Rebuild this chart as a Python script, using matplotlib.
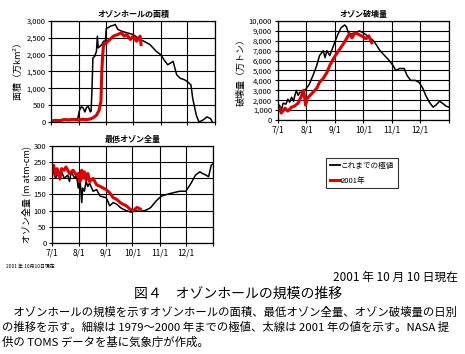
import matplotlib.pyplot as plt
from matplotlib.lines import Line2D

plt.rcParams['font.family'] = ['Noto Sans CJK JP', 'DejaVu Sans']

# x軸: 7/1からの日数
month_days = [0, 31, 62, 92, 123, 153, 184]
month_labels = ['7/1', '8/1', '9/1', '10/1', '11/1', '12/1']

# オゾンホールの面積（万km2）
area_max_day = [0, 5, 10, 15, 20, 25, 30, 32, 34, 36, 38, 40, 42, 44, 45, 46, 47, 49, 51, 52,
                53, 55, 57, 59, 61, 62, 64, 67, 70, 72, 75, 79, 85, 92, 100, 104, 111, 118, 123,
                128, 131, 134, 137, 139, 141, 145, 150, 153, 157, 159, 163, 166, 170, 175, 179, 181]
area_max_val = [30, 50, 60, 80, 70, 90, 100, 350, 450, 420, 300, 440, 450, 300, 320, 1000, 1900, 1950, 2100, 2550,
                2200, 2250, 2300, 2400, 2400, 2780, 2800, 2850, 2870, 2900, 2750, 2700, 2650, 2600, 2450, 2400, 2300, 2100, 2000,
                1800, 1700, 1750, 1800, 1600, 1400, 1300, 1250, 1200, 1100, 700, 200, 0, 50, 150, 100, 0]
area_2001_day = [0, 5, 10, 15, 20, 25, 30, 35, 40, 44, 47, 51, 54, 56, 57, 58, 59, 62, 64, 70, 75,
                 79, 82, 85, 89, 92, 96, 100, 101]
area_2001_val = [30, 50, 40, 70, 60, 80, 60, 80, 70, 90, 120, 200, 350, 600, 1500, 2000, 2300, 2350, 2400, 2550, 2600,
                 2650, 2550, 2600, 2450, 2550, 2400, 2550, 2300]

# オゾン破壊量（万トン）
dest_max_day = [0, 2, 4, 6, 9, 11, 13, 15, 17, 20, 22, 24, 27, 31, 34, 38, 42, 45, 49, 51,
                53, 56, 60, 62, 65, 68, 72, 74, 76, 79, 83, 88, 92, 95, 99, 103, 106, 110, 115, 120,
                124, 127, 131, 136, 139, 143, 148, 152, 156, 159, 163, 167, 170, 174, 177, 181, 184]
dest_max_val = [1000, 1500, 1000, 1700, 1600, 2100, 1800, 2300, 1900, 3000, 2500, 2800, 2800, 3200, 3600, 4500, 5500, 6500, 7000, 6300,
                7000, 6500, 7500, 8000, 8700, 9300, 9600, 9400, 8800, 8700, 8800, 9000, 8800, 8600, 8300, 8000, 7600, 7000, 6500, 6000,
                5500, 5000, 5200, 5200, 4500, 4000, 4000, 3800, 3200, 2500, 1800, 1300, 1500, 1900, 1700, 1400, 1300]
dest_2001_day = [0, 2, 4, 8, 11, 15, 18, 22, 25, 28, 30, 32, 35, 38, 42, 45, 49, 53, 56, 60,
                 62, 67, 70, 74, 77, 80, 83, 86, 90, 92, 95, 98, 101]
dest_2001_val = [800, 1200, 700, 1200, 900, 1300, 1400, 1700, 2300, 3000, 1500, 2200, 2500, 2800, 3200, 3800, 4200, 4800, 5500, 6200,
                 6500, 7200, 7600, 8200, 8700, 8300, 8800, 8700, 8500, 8400, 8200, 8500, 7800]

# 最低オゾン全量（m atm-cm）
ozone_min_day = [0, 2, 4, 7, 9, 11, 14, 18, 20, 22, 26, 28, 30, 32, 34, 35, 37, 39, 41, 43,
                 47, 51, 55, 62, 66, 70, 74, 78, 81, 85, 91, 95, 100, 106, 110, 113, 119, 125, 131,
                 138, 146, 153, 159, 164, 169, 172, 176, 179, 182, 184]
ozone_min_val = [210, 220, 200, 215, 195, 220, 200, 210, 190, 220, 200, 210, 170, 200, 125, 170, 160, 190, 175, 185,
                 160, 165, 145, 140, 115, 125, 120, 110, 105, 100, 95, 100, 98, 100, 105, 110, 130, 145, 150,
                 155, 160, 160, 185, 210, 220, 215, 210, 205, 240, 245]
ozone_2001_day = [0, 2, 4, 6, 9, 11, 14, 16, 20, 24, 28, 30, 32, 34, 35, 37, 39, 41, 43, 47,
                  51, 55, 62, 66, 70, 74, 78, 81, 85, 89, 93, 97, 101]
ozone_2001_val = [210, 240, 210, 230, 200, 230, 225, 235, 215, 225, 210, 215, 190, 225, 200, 220, 195, 215, 190, 200,
                  180, 175, 165, 155, 140, 135, 125, 120, 115, 105, 100, 110, 105]

area_ticks = [0, 500, 1000, 1500, 2000, 2500, 3000]
dest_ticks = [0, 1000, 2000, 3000, 4000, 5000, 6000, 7000, 8000, 9000, 10000]
ozone_ticks = [0, 50, 100, 150, 200, 250, 300]


def setup(ax, ticks, title, ylabel, xlabels):
    ax.set_xlim(0, 184)
    ax.set_ylim(ticks[0], ticks[-1])
    ax.set_xticks(month_days)
    ax.set_yticks(ticks)
    ax.set_yticklabels(['{:,}'.format(t) for t in ticks], fontsize=5.5)
    if xlabels:
        ax.set_xticklabels(month_labels + [''], fontsize=6)
    else:
        ax.set_xticklabels([])
    ax.grid(True, color='black', linewidth=0.8)
    ax.tick_params(length=2, pad=2)
    for s in ax.spines.values():
        s.set_linewidth(0.9)
    ax.set_title(title, fontsize=5.8, fontweight='bold', pad=3)
    ax.set_ylabel(ylabel, fontsize=6.5, labelpad=2)


fig = plt.figure(figsize=(4.65, 3.54), dpi=100)

ax1 = fig.add_axes([0.1097, 0.6554, 0.3527, 0.2853])
ax1.plot(area_max_day, area_max_val, color='black', linewidth=1.1)
ax1.plot(area_2001_day, area_2001_val, color='#e00000', linewidth=2.2)
setup(ax1, area_ticks, 'オゾンホールの面積', '面積（万km$^2$）', False)

ax2 = fig.add_axes([0.597, 0.661, 0.3684, 0.2797])
ax2.plot(dest_max_day, dest_max_val, color='black', linewidth=1.1)
ax2.plot(dest_2001_day, dest_2001_val, color='#e00000', linewidth=2.2)
setup(ax2, dest_ticks, 'オゾン破壊量', '破壊量（万トン）', True)

ax3 = fig.add_axes([0.1118, 0.3136, 0.3462, 0.274])
ax3.plot(ozone_min_day, ozone_min_val, color='black', linewidth=1.1)
ax3.plot(ozone_2001_day, ozone_2001_val, color='#e00000', linewidth=2.2)
setup(ax3, ozone_ticks, '最低オゾン全量', 'オゾン全量 (m atm-cm)', True)

handles = [Line2D([], [], color='black', linewidth=1.3),
           Line2D([], [], color='#e00000', linewidth=2.2)]
leg = fig.legend(handles, ['これまでの極値', '2001年'], loc='upper left',
                 bbox_to_anchor=(0.6925, 0.565), fontsize=5.5, frameon=True,
                 fancybox=False, edgecolor='black', handlelength=1.3, handletextpad=0.1,
                 borderpad=0.5, labelspacing=0.9)
leg.get_frame().set_linewidth(0.8)

fig.text(6 / 465, 1 - 266 / 354, '2001 年 10月10日現在', fontsize=3.5, va='center')
fig.text(458 / 465, 1 - 277 / 354, '2001 年 10 月 10 日現在', fontsize=8.5, ha='right', va='center')
fig.text(238 / 465, 1 - 294 / 354, '図４　オゾンホールの規模の推移', fontsize=10, ha='center', va='center')
lines = ['　オゾンホールの規模を示すオゾンホールの面積、最低オゾン全量、オゾン破壊量の日別',
         'の推移を示す。細線は 1979～2000 年までの極値、太線は 2001 年の値を示す。NASA 提',
         '供の TOMS データを基に気象庁が作成。']
for i, line in enumerate(lines):
    fig.text(2 / 465, 1 - (312 + 15 * i) / 354, line, fontsize=8.2, va='center')

fig.savefig('out.png', dpi=100)
